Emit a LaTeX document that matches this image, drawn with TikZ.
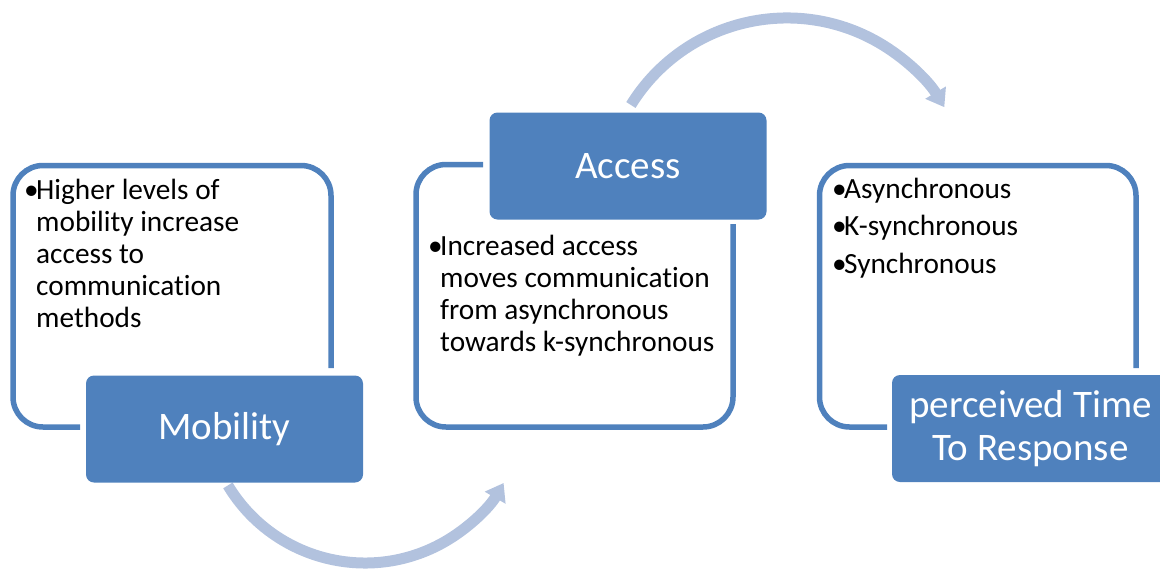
\documentclass[tikz,border=0pt]{standalone}
\usepackage{fontspec}
\setmainfont[Ligatures=NoCommon]{Carlito}
\usetikzlibrary{arrows.meta}
\definecolor{dkblue}{RGB}{79,129,189}
\definecolor{ltblue}{RGB}{178,194,222}
\newcommand\mybul{\makebox[12pt][l]{•}}
\newcommand\myind{\hspace*{12pt}}
\begin{document}
\begin{tikzpicture}[x=1pt,y=-1pt,
  frame/.style={draw=dkblue, line width=5.5pt, rounded corners=30pt},
  titlebox/.style={fill=dkblue, rounded corners=8pt, draw=none, text=white,
    font=\fontsize{39}{43}\selectfont, align=center, inner sep=0pt,
    minimum width=277pt, minimum height=107pt},
  body/.style={font=\fontsize{29.3}{32}\selectfont, align=left, inner sep=0pt, anchor=base west},
  flow/.style={draw=ltblue, line width=11pt, -{Triangle[length=17pt,width=23pt]}}]
\useasboundingbox (0,0) rectangle (1160,568);
\clip (0,0) rectangle (1160,568);
% curved arrows
\coordinate (mobout) at (227.9,485.4);
\coordinate (accout) at (630.9,105);
\draw[flow] (mobout) arc[start angle=149, end angle=30, radius=160];
\draw[flow] (accout) arc[start angle=211.7, end angle=329.1, radius=183.4];
% outline frames
\draw[frame] (80,427) -- (13,427) -- (13,165.5) -- (331,165.5) -- (331,368);
\draw[frame] (483,164.5) -- (416,164.5) -- (416,427) -- (733,427) -- (733,224);
\draw[frame] (887,427) -- (819.5,427) -- (819.5,165.5) -- (1136,165.5) -- (1136,368);
% title boxes
\node[titlebox] (mob) at (224.5,429) {Mobility};
\node[titlebox] (acc) at (628,166) {Access};
\node[titlebox] (ttr) at (1030.5,428.5) {perceived Time\\To Response};
% body texts (anchored at the baseline of their last line)
\node[body] (t1) at (24,327) {\mybul Higher levels of\\\myind mobility increase\\\myind access to\\\myind communication\\\myind methods};
\node[body] (t2) at (428,351) {\mybul Increased access\\\myind moves communication\\\myind from asynchronous\\\myind towards k-synchronous};
\node[body, font=\fontsize{29.3}{37.5}\selectfont] (t3) at (832,273) {\mybul Asynchronous\\\mybul K-synchronous\\\mybul Synchronous};
\end{tikzpicture}
\end{document}
